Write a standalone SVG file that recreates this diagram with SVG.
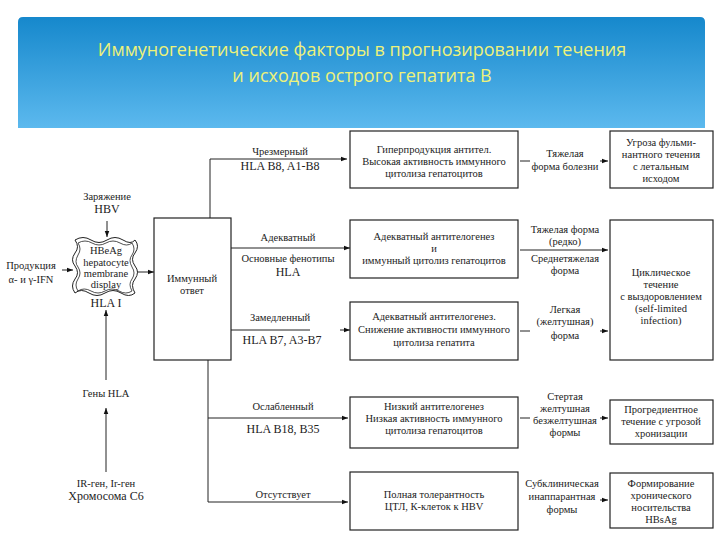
<svg xmlns="http://www.w3.org/2000/svg" width="720" height="540" viewBox="0 0 720 540">
<defs>
<linearGradient id="hg" x1="0" y1="0" x2="0" y2="1"><stop offset="0" stop-color="#1688cc"/><stop offset="1" stop-color="#5cb9ee"/></linearGradient>
<marker id="ar" viewBox="0 0 8 8" refX="8" refY="4" markerWidth="6" markerHeight="6" orient="auto"><path d="M0,1 L8,4 L0,7 z" fill="#111"/></marker>
</defs>
<style>
.t{font-family:"Liberation Serif","Times New Roman","DejaVu Serif",serif;font-size:10.5px;fill:#222;text-anchor:middle}
.b{font-size:12px}
.box{fill:#fff;stroke:#222;stroke-width:1.2}
.ln{fill:none;stroke:#222;stroke-width:1}
.h{font-family:"Open Sans","DejaVu Sans",sans-serif;font-size:18px;fill:#eef27a;text-anchor:middle}
</style>
<rect width="720" height="540" fill="#fff"/>
<g id="header"><path d="M18,22 Q18,17 23,17 L700,17 Q705,17 705,22 L705,128 L18,128 z" fill="url(#hg)"/>
<text class="h" x="362" y="56">Иммуногенетические факторы в прогнозировании течения</text>
<text class="h" x="362" y="82">и исходов острого гепатита В</text></g>
<g id="connectors">
<path class="ln" d="M210,218 V159 H347" marker-end="url(#ar)"/>
<path class="ln" d="M231,248 H350" marker-end="url(#ar)"/>
<path class="ln" d="M231,330 H310"/>
<path class="ln" d="M340,330 H350" marker-end="url(#ar)"/>
<path class="ln" d="M208,360 V502 H348" marker-end="url(#ar)"/>
<path class="ln" d="M208,418 H348" marker-end="url(#ar)"/>
<path class="ln" d="M107,221 V237" marker-end="url(#ar)"/>
<path class="ln" d="M62,270 H73" marker-end="url(#ar)"/>
<path class="ln" d="M137,272 H154" marker-end="url(#ar)"/>
<path class="ln" d="M106,380 V310" marker-end="url(#ar)"/>
<path class="ln" d="M106,472 V408" marker-end="url(#ar)"/>
<path class="ln" d="M520,161 H530"/><path class="ln" d="M600,161 H608" marker-end="url(#ar)"/>
<path class="ln" d="M520,250 H608" marker-end="url(#ar)"/>
<path class="ln" d="M520,331 H530"/><path class="ln" d="M600,331 H608" marker-end="url(#ar)"/>
<path class="ln" d="M520,418 H530"/><path class="ln" d="M600,418 H608" marker-end="url(#ar)"/>
<path class="ln" d="M600,500 H608" marker-end="url(#ar)"/>
</g>
<g id="labels">
<text class="t" x="280" y="155">Чрезмерный</text><text class="t b" x="280" y="170">HLA B8, A1-B8</text>
<text class="t" x="288" y="241">Адекватный</text><text class="t" x="288" y="262">Основные фенотипы</text><text class="t b" x="288" y="276">HLA</text>
<text class="t" x="280" y="321">Замедленный</text><text class="t b" x="282" y="344">HLA B7, A3-B7</text>
<text class="t" x="283" y="410">Ослабленный</text><text class="t b" x="283" y="433">HLA B18, B35</text>
<text class="t" x="283" y="498">Отсутствует</text>
<text class="t" x="565" y="157">Тяжелая</text><text class="t" x="565" y="170">форма болезни</text>
<text class="t" x="565" y="233">Тяжелая форма</text><text class="t" x="565" y="245">(редко)</text><text class="t" x="565" y="262">Среднетяжелая</text><text class="t" x="565" y="274">форма</text>
<text class="t" x="565" y="313">Легкая</text><text class="t" x="565" y="325">(желтушная)</text><text class="t" x="565" y="339">форма</text>
<text class="t" x="565" y="400">Стертая</text><text class="t" x="565" y="412">желтушная</text><text class="t" x="565" y="424">безжелтушная</text><text class="t" x="565" y="436">формы</text>
<text class="t" x="562" y="487">Субклиническая</text><text class="t" x="562" y="500">инаппарантная</text><text class="t" x="562" y="513">формы</text>
</g>
<g id="n-hbv"><text class="t" x="107" y="200">Заряжение</text><text class="t b" x="107" y="213">HBV</text></g>
<g id="n-ifn"><text class="t" x="31" y="269">Продукция</text><text class="t" x="31" y="283">α- и γ-IFN</text></g>
<g id="n-hbeag">
<path d="M75,240 q8,-5 16,0 q8,5 16,0 q8,-5 16,0 q8,5 12,0 q5,6 0,13 q-5,6 0,13 q5,6 0,13 q-5,6 0,14 q-6,5 -14,0 q-8,-5 -16,0 q-8,5 -16,0 q-8,-5 -14,0 q-5,-7 0,-14 q5,-6 0,-13 q-5,-6 0,-13 q5,-6 0,-13 z" fill="#fff" stroke="#222" stroke-width="1"/>
<path d="M78,243 q7,-4 14,0 q7,4 14,0 q7,-4 14,0 q7,4 12,0 q4,6 0,12 q-4,5 0,12 q4,6 0,12 q-4,5 0,12 q-6,4 -13,0 q-7,-4 -14,0 q-7,4 -14,0 q-7,-4 -13,0 q-4,-6 0,-12 q4,-6 0,-12 q-4,-5 0,-12 q4,-6 0,-12 z" fill="none" stroke="#222" stroke-width="0.8"/>
<text class="t" x="106" y="254">HBeAg</text><text class="t" x="106" y="266">hepatocyte</text><text class="t" x="106" y="277">membrane</text><text class="t" x="106" y="288">display</text>
<text class="t b" x="106" y="307">HLA I</text></g>
<g id="n-genes"><text class="t" x="106" y="397">Гены HLA</text></g>
<g id="n-chrom"><text class="t" x="106" y="487">IR-ген, Ir-ген</text><text class="t b" x="106" y="500">Хромосома С6</text></g>
<g id="n-immune"><rect class="box" x="154" y="218" width="77" height="142"/><text class="t" x="192" y="282">Иммунный</text><text class="t" x="192" y="294">ответ</text></g>
<g id="n-m1"><rect class="box" x="350" y="131" width="168" height="57"/><text class="t" x="434" y="153">Гиперпродукция антител.</text><text class="t" x="434" y="165">Высокая активность иммунного</text><text class="t" x="434" y="177">цитолиза гепатоцитов</text></g>
<g id="n-m2"><rect class="box" x="350" y="220" width="168" height="58"/><text class="t" x="434" y="240">Адекватный антителогенез</text><text class="t" x="434" y="252">и</text><text class="t" x="434" y="264">иммунный цитолиз гепатоцитов</text></g>
<g id="n-m3"><rect class="box" x="350" y="302" width="168" height="58"/><text class="t" x="434" y="320">Адекватный антителогенез.</text><text class="t" x="434" y="333">Снижение активности иммунного</text><text class="t" x="434" y="346">цитолиза гепатита</text></g>
<g id="n-m4"><rect class="box" x="350" y="397" width="168" height="51"/><text class="t" x="434" y="410">Низкий антителогенез</text><text class="t" x="434" y="422">Низкая активность иммунного</text><text class="t" x="434" y="434">цитолиза гепатоцитов</text></g>
<g id="n-m5"><rect class="box" x="350" y="472" width="168" height="58"/><text class="t" x="434" y="498">Полная толерантность</text><text class="t" x="434" y="510">ЦТЛ, К-клеток к HBV</text></g>
<g id="n-r1"><rect class="box" x="610" y="131" width="103" height="57"/><text class="t" x="661" y="146">Угроза фульми-</text><text class="t" x="661" y="158">нантного течения</text><text class="t" x="661" y="170">с летальным</text><text class="t" x="661" y="182">исходом</text></g>
<g id="n-r2"><rect class="box" x="610" y="220" width="103" height="140"/><text class="t" x="661" y="276">Циклическое</text><text class="t" x="661" y="288">течение</text><text class="t" x="661" y="300">с выздоровлением</text><text class="t" x="661" y="312">(self-limited</text><text class="t" x="661" y="324">infection)</text></g>
<g id="n-r4"><rect class="box" x="610" y="400" width="103" height="44"/><text class="t" x="661" y="413">Прогредиентное</text><text class="t" x="661" y="425">течение с угрозой</text><text class="t" x="661" y="437">хронизации</text></g>
<g id="n-r5"><rect class="box" x="610" y="473" width="103" height="55"/><text class="t" x="661" y="487">Формирование</text><text class="t" x="661" y="499">хронического</text><text class="t" x="661" y="511">носительства</text><text class="t" x="661" y="523">HBsAg</text></g>
</svg>
